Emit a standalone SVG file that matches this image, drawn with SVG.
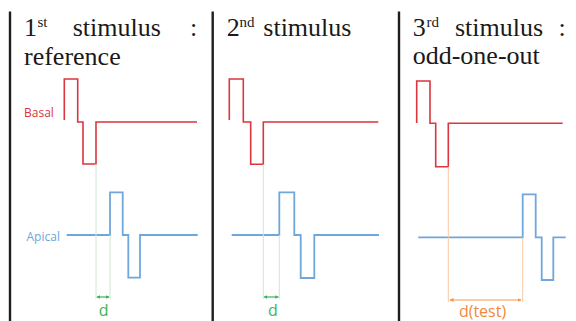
<svg xmlns="http://www.w3.org/2000/svg" width="576" height="321" viewBox="0 0 576 321">
<defs>
<style>
.sep{stroke:#1e1e1e;stroke-width:2.4;fill:none}
.title{font-family:"Liberation Serif","Times New Roman",serif;font-size:26px;fill:#1a1a1a}
.sup{font-family:"Liberation Serif","Times New Roman",serif;font-size:15px;fill:#1a1a1a}
.red{stroke:#d9363e;stroke-width:1.6;fill:none}
.blue{stroke:#6fa6dc;stroke-width:1.8;fill:none}
.gguide{stroke:#cfe8d2;stroke-width:1;fill:none}
.oguide{stroke:#f9c9a3;stroke-width:1;fill:none}
.garrow{stroke:#3cb55a;stroke-width:1.2;fill:none}
.oarrow{stroke:#f39a55;stroke-width:1.2;fill:none}
.lbl{font-family:"Open Sans","Noto Sans",sans-serif;font-size:12px}
.dg{font-family:"Open Sans","Noto Sans",sans-serif;font-size:16px;fill:#3cb55a}
.do{font-family:"Open Sans","Noto Sans",sans-serif;font-size:16px;fill:#f08a3c}
</style>
<marker id="gh" viewBox="0 0 6 6" refX="5" refY="3" markerWidth="3" markerHeight="3" orient="auto-start-reverse"><path d="M0,0 L6,3 L0,6 Z" fill="#3cb55a"/></marker>
<marker id="oh" viewBox="0 0 6 6" refX="5" refY="3" markerWidth="3.5" markerHeight="3.5" orient="auto-start-reverse"><path d="M0,0 L6,3 L0,6 Z" fill="#f39a55"/></marker>
</defs>
<rect width="576" height="321" fill="#ffffff"/>

<g id="panel1">
<line class="sep" x1="10" y1="11.5" x2="10" y2="321"/>
<text class="title" x="24" y="36">1</text>
<text class="sup" x="37.5" y="27">st</text>
<text class="title" x="72.7" y="36">stimulus</text>
<text class="title" x="190" y="36">:</text>
<text class="title" x="24" y="65">reference</text>
<text class="lbl" x="24" y="117" fill="#d9363e">Basal</text>
<text class="lbl" x="26.5" y="241" fill="#6fa6dc">Apical</text>
<path class="red" d="M64.3,120 V79 H77.7 V122 H83 V164 H96 V122 H197"/>
<path class="blue" d="M66.7,235 H110 V192.3 H122.7 V235 H128.3 V277.7 H140 V235 H197.7"/>
</g>

<g id="panel2">
<line class="sep" x1="212.7" y1="11.5" x2="212.7" y2="321"/>
<text class="title" x="226.7" y="36">2</text>
<text class="sup" x="239.5" y="27">nd</text>
<text class="title" x="263.3" y="36">stimulus</text>
<path class="red" d="M229.3,120 V79 H243.3 V122 H250.7 V164.3 H263.3 V122 H378.3"/>
<path class="blue" d="M231.7,235 H279.3 V192.3 H294.3 V235 H300.7 V278 H314.3 V235 H379"/>
</g>

<g id="panel3">
<line class="sep" x1="399" y1="11.5" x2="399" y2="321"/>
<text class="title" x="412.7" y="36">3</text>
<text class="sup" x="426.5" y="27">rd</text>
<text class="title" x="455" y="36">stimulus</text>
<text class="title" x="558.5" y="36">:</text>
<text class="title" x="412.7" y="64">odd-one-out</text>
<path class="red" d="M416.7,123 V81 H430 V123.3 H435.7 V166.7 H448.3 V123.3 H562.7"/>
<path class="blue" d="M418.3,237.3 H522.7 V194.3 H535.7 V237.3 H541.7 V280 H553.3 V237.3 H565.7"/>
</g>

<g id="connectors">
<line class="gguide" x1="96" y1="164" x2="96" y2="299"/>
<line class="gguide" x1="110" y1="235" x2="110" y2="299"/>
<line class="garrow" x1="97" y1="297" x2="109" y2="297" marker-start="url(#gh)" marker-end="url(#gh)"/>
<text class="dg" x="103.7" y="316" text-anchor="middle">d</text>

<line class="gguide" x1="263.3" y1="164.3" x2="263.3" y2="299"/>
<line class="gguide" x1="279.3" y1="235" x2="279.3" y2="299"/>
<line class="garrow" x1="264.3" y1="297" x2="278.3" y2="297" marker-start="url(#gh)" marker-end="url(#gh)"/>
<text class="dg" x="273" y="316" text-anchor="middle">d</text>

<line class="oguide" x1="448.3" y1="166.7" x2="448.3" y2="302"/>
<line class="oguide" x1="522.7" y1="237.3" x2="522.7" y2="302"/>
<line class="oarrow" x1="450" y1="300" x2="521" y2="300" marker-start="url(#oh)" marker-end="url(#oh)"/>
<text class="do" x="482.5" y="316.5" text-anchor="middle">d(test)</text>
</g>
</svg>
